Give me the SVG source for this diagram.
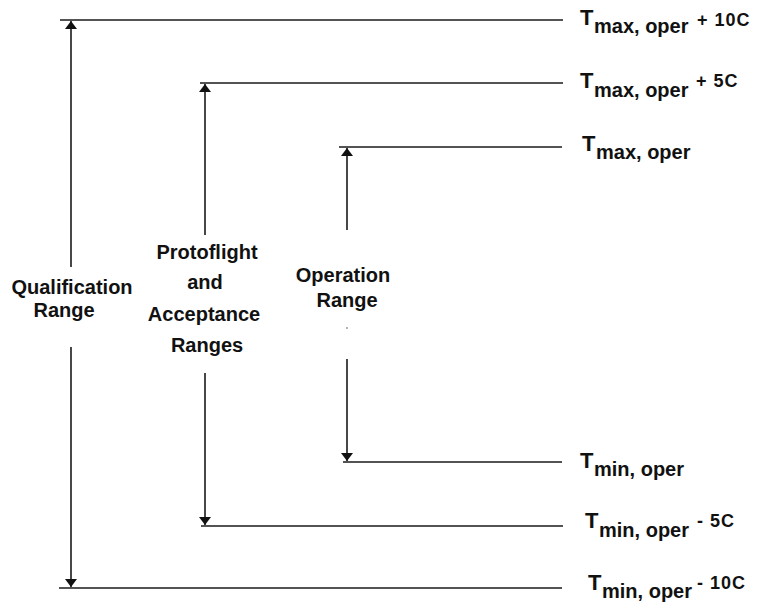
<svg xmlns="http://www.w3.org/2000/svg" width="757" height="607" viewBox="0 0 757 607">
  <style>
    .lvl { stroke: #1a1a1a; stroke-width: 1.6; fill: none; }
    .rng { stroke: #1a1a1a; stroke-width: 1.6; fill: none; marker-end: url(#tip); }
    .lab { font-family: "Liberation Sans", Arial, sans-serif; font-weight: bold; font-size: 20px; fill: #111; text-anchor: middle; }
    .t { font-family: "Liberation Sans", Arial, sans-serif; font-weight: bold; fill: #111; }
    .big { font-size: 22px; }
    .sub { font-size: 20px; }
    .off { font-size: 18px; letter-spacing: 1px; }
  </style>
  <defs>
    <marker id="tip" viewBox="0 0 8 12" refX="8" refY="6" markerWidth="8" markerHeight="12" orient="auto" markerUnits="userSpaceOnUse">
      <path d="M0,0 L8,6 L0,12 Z" fill="#111"/>
    </marker>
  </defs>
  <rect width="757" height="607" fill="#ffffff"/>

  <g id="connectors">
    <!-- temperature levels -->
    <line class="lvl" x1="60" y1="20" x2="563" y2="20"/>
    <line class="lvl" x1="200" y1="83" x2="563" y2="83"/>
    <line class="lvl" x1="339" y1="147" x2="562" y2="147"/>
    <line class="lvl" x1="343" y1="462" x2="562" y2="462"/>
    <line class="lvl" x1="201" y1="526" x2="563" y2="526"/>
    <line class="lvl" x1="59" y1="588" x2="562" y2="588"/>
    <!-- range arrows -->
    <line class="rng" x1="71" y1="267" x2="71" y2="21"/>
    <line class="rng" x1="71" y1="347" x2="71" y2="587"/>
    <line class="rng" x1="205" y1="235" x2="205" y2="84"/>
    <line class="rng" x1="205" y1="373" x2="205" y2="525"/>
    <line class="rng" x1="347" y1="230" x2="347" y2="148"/>
    <line class="rng" x1="347" y1="359" x2="347" y2="461"/>
    <circle cx="347" cy="328" r="0.8" fill="#555"/>
  </g>

  <g id="qualification">
    <text class="lab" x="72" y="294">Qualification</text>
    <text class="lab" x="64" y="317">Range</text>
  </g>

  <g id="protoflight">
    <text class="lab" x="207" y="259">Protoflight</text>
    <text class="lab" x="205" y="289">and</text>
    <text class="lab" x="204" y="321">Acceptance</text>
    <text class="lab" x="207" y="352">Ranges</text>
  </g>

  <g id="operation">
    <text class="lab" x="343" y="282">Operation</text>
    <text class="lab" x="347" y="307">Range</text>
  </g>

  <g id="tmax-plus10">
    <text class="t"><tspan class="big" x="580" y="25">T</tspan><tspan class="sub" x="594" y="33">max, oper</tspan><tspan class="off" x="697" y="26">+ 10C</tspan></text>
  </g>
  <g id="tmax-plus5">
    <text class="t"><tspan class="big" x="580" y="88">T</tspan><tspan class="sub" x="594" y="97">max, oper</tspan><tspan class="off" x="696" y="87">+ 5C</tspan></text>
  </g>
  <g id="tmax">
    <text class="t"><tspan class="big" x="582" y="151">T</tspan><tspan class="sub" x="596" y="159">max, oper</tspan></text>
  </g>
  <g id="tmin">
    <text class="t"><tspan class="big" x="580" y="468">T</tspan><tspan class="sub" x="594" y="476">min, oper</tspan></text>
  </g>
  <g id="tmin-minus5">
    <text class="t"><tspan class="big" x="585" y="528">T</tspan><tspan class="sub" x="599" y="537">min, oper</tspan><tspan class="off" x="697" y="527">- 5C</tspan></text>
  </g>
  <g id="tmin-minus10">
    <text class="t"><tspan class="big" x="588" y="590">T</tspan><tspan class="sub" x="602" y="598">min, oper</tspan><tspan class="off" x="697" y="589">- 10C</tspan></text>
  </g>
</svg>
